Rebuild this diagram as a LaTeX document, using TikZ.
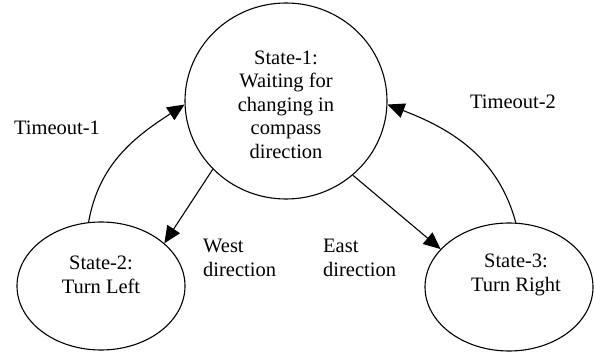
\documentclass[tikz,border=0pt]{standalone}
\usepackage{fontspec}
\setmainfont{Liberation Serif}
\usetikzlibrary{arrows.meta,shapes.geometric}
\begin{document}
\begin{tikzpicture}[x=1pt,y=1pt,
  statebox/.style={draw,ellipse,line width=1.1pt,inner sep=0pt},
  txt/.style={font=\fontsize{20.5}{23.5}\selectfont,align=center,inner sep=0pt},
  trans/.style={draw,line width=1.1pt,-{Triangle[length=17pt,width=15pt]}}]
\useasboundingbox (0,0) rectangle (594,351);
% states
\node[statebox,minimum width=202pt,minimum height=196pt] (s1) at (286,250) {};
\node[statebox,minimum width=168pt,minimum height=128pt] (s2) at (101,65) {};
\node[statebox,minimum width=168pt,minimum height=128pt] (s3) at (509,64) {};
\node[txt] (t1) at (286,246.5) {State-1:\\Waiting for\\changing in\\compass\\direction};
\node[txt] (t2) at (101,76) {State-2:\\Turn Left};
\node[txt] (t3) at (516,76) {State-3:\\Turn Right};
% transitions
\draw[trans] (s1.223) -- (s2.34);
\draw[trans] (s1.312.6) -- (s3.151.8);
\draw[trans] (s2.101) to[out=80,in=213] (s1.182);
\draw[trans] (s3.84) to[out=105,in=-21] (s1.358);
% transition labels
\node[txt] (l1) at (57,223) {Timeout-1};
\node[txt] (l2) at (513,249) {Timeout-2};
\node[txt,align=left,anchor=west] (l3) at (203,93) {West\\direction};
\node[txt,align=left,anchor=west] (l4) at (323,93) {East\\direction};
\end{tikzpicture}
\end{document}
